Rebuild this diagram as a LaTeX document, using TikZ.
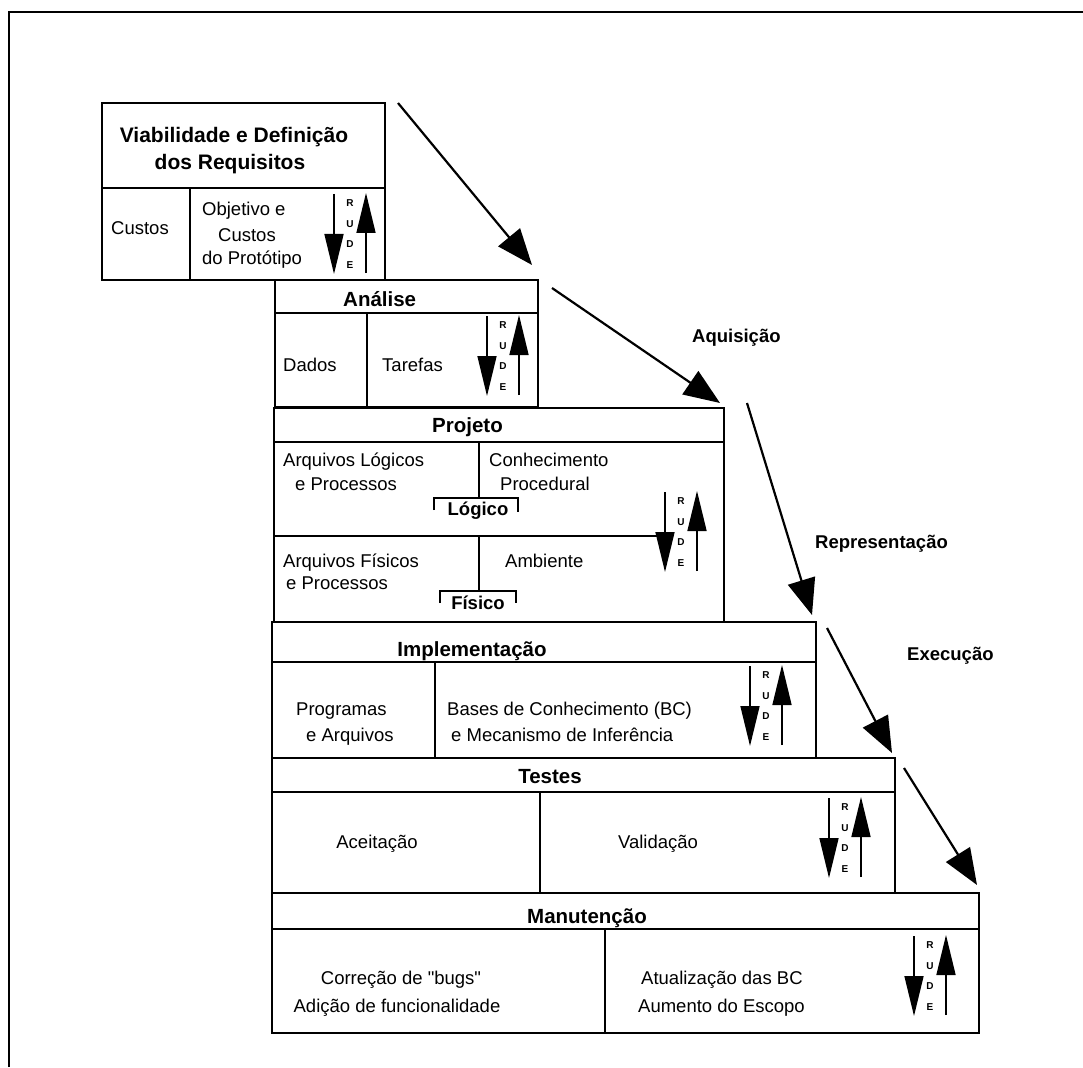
\documentclass[tikz,border=0pt]{standalone}
\usepackage{fontspec}
\setmainfont{Liberation Sans}[Ligatures=TeXOff]
\usetikzlibrary{arrows.meta}

% a cell of the stair diagram: name, top-left corner, width, height
\newcommand\cellbox[5]{\node[cell, minimum width=#4pt, minimum height=#5pt] (#1) at (#2,#3) {};}
% the R-U-D-E marker with its down and up arrows
\newcommand\rude[3]{%
  \node[rl] (#1) at (#2,#3) {R\\U\\D\\E};
  \draw[rudearrow] ([xshift=-16pt,yshift=40pt]#1.center) -- ([xshift=-16pt,yshift=-40pt]#1.center);
  \draw[rudearrow] ([xshift=16pt,yshift=-39pt]#1.center) -- ([xshift=16pt,yshift=41pt]#1.center);
}

\begin{document}
\begin{tikzpicture}[x=1pt,y=-1pt,
  frame/.style={line width=2.4pt},
  cell/.style={draw, line width=2pt, inner sep=0pt, outer sep=0pt, anchor=north west},
  ttl/.style={font=\fontsize{20.5}{24}\bfseries\selectfont, inner sep=0pt},
  txt/.style={font=\fontsize{18.5}{22}\selectfont, inner sep=0pt},
  lbl/.style={font=\fontsize{18.5}{22}\bfseries\selectfont, inner sep=0pt},
  rl/.style={font=\fontsize{10}{20.7}\bfseries\selectfont, inner sep=0pt, align=center},
  flow/.style={line width=2.2pt, -{Triangle[length=36pt,width=28pt]}},
  rudearrow/.style={line width=1.6pt, -{Triangle[length=40pt,width=19pt]}},
  divider/.style={line width=2pt},
  bracket/.style={line width=1.6pt},
]
\useasboundingbox (0,0) rectangle (1083,1067);

% page frame (top and left sides)
\draw[frame] (9,1067) -- (9,12) -- (1083,12);

% --- Viabilidade e Definição dos Requisitos
\cellbox{v1t}{102}{103}{283}{85}
\cellbox{v1l}{102}{188}{88}{92}
\cellbox{v1r}{190}{188}{195}{92}
\node[ttl, font=\fontsize{21}{24}\bfseries\selectfont, anchor=base] (v1ta) at (234,143) {Viabilidade e Definição};
\node[ttl, font=\fontsize{21}{24}\bfseries\selectfont, anchor=base] (v1tb) at (230,170) {dos Requisitos};
\node[txt, anchor=base west] (v1a) at (111,234) {Custos};
\node[txt, anchor=base west] (v1b) at (202,215) {Objetivo e};
\node[txt, anchor=base west] (v1c) at (218,241) {Custos};
\node[txt, anchor=base west] (v1d) at (202,265) {do Protótipo};
\rude{r1}{350}{234}

% --- Análise
\cellbox{v2t}{275}{280}{263}{33}
\cellbox{v2l}{275}{313}{92}{94}
\cellbox{v2r}{367}{313}{171}{94}
\node[ttl, anchor=base west] (v2ta) at (343,306) {Análise};
\node[txt, anchor=base west] (v2a) at (283,371) {Dados};
\node[txt, anchor=base west] (v2b) at (382,371) {Tarefas};
\rude{r2}{503}{356}

% --- Projeto
\cellbox{v3t}{274}{408}{450}{34}
\cellbox{v3b}{274}{442}{450}{180}
\coordinate (p3a) at (274,536);
\coordinate (p3b) at (662,536);
\draw[divider] (p3a) -- (p3b);
\coordinate (p3c) at (479,442);
\coordinate (p3d) at (479,498);
\coordinate (p3e) at (479,536);
\coordinate (p3f) at (479,591);
\draw[divider] (p3c) -- (p3d);
\draw[divider] (p3e) -- (p3f);
\draw[bracket] (434,510) -- (434,498) -- (518,498) -- (518,512);
\draw[bracket] (440,603) -- (440,591) -- (516,591) -- (516,603);
\node[ttl, anchor=base west] (v3ta) at (432,432) {Projeto};
\node[txt, anchor=base west] (v3a) at (283,466) {Arquivos Lógicos};
\node[txt, anchor=base west] (v3b) at (295,490) {e Processos};
\node[txt, anchor=base west] (v3c) at (489,466) {Conhecimento};
\node[txt, anchor=base west] (v3d) at (500,490) {Procedural};
\node[lbl, anchor=base] (v3e) at (478,515) {Lógico};
\node[txt, anchor=base west] (v3f) at (283,567) {Arquivos Físicos};
\node[txt, anchor=base west] (v3g) at (286,589) {e Processos};
\node[txt, anchor=base west] (v3h) at (505,567) {Ambiente};
\node[lbl, anchor=base] (v3i) at (478,609) {Físico};
\rude{r3}{681}{532}

% --- Implementação
\cellbox{v4t}{272}{622}{544}{40}
\cellbox{v4l}{272}{662}{163}{96}
\cellbox{v4r}{435}{662}{381}{96}
\node[ttl, anchor=base] (v4ta) at (472,656) {Implementação};
\node[txt, anchor=base west] (v4a) at (296,715) {Programas};
\node[txt, anchor=base west] (v4b) at (306,741) {e Arquivos};
\node[txt, anchor=base west] (v4c) at (447,715) {Bases de Conhecimento (BC)};
\node[txt, anchor=base west] (v4d) at (451,741) {e Mecanismo de Inferência};
\rude{r4}{766}{706}

% --- Testes
\cellbox{v5t}{272}{758}{623}{34}
\cellbox{v5l}{272}{792}{268}{101}
\cellbox{v5r}{540}{792}{355}{101}
\node[ttl, anchor=base] (v5ta) at (550,783) {Testes};
\node[txt, anchor=base] (v5a) at (377,848) {Aceitação};
\node[txt, anchor=base] (v5b) at (658,848) {Validação};
\rude{r5}{845}{838}

% --- Manutenção
\cellbox{v6t}{272}{893}{707}{36}
\cellbox{v6l}{272}{929}{333}{104}
\cellbox{v6r}{605}{929}{374}{104}
\node[ttl, anchor=base] (v6ta) at (587,923) {Manutenção};
\node[txt, anchor=base] (v6a) at (401,984) {Correção de "bugs"};
\node[txt, anchor=base] (v6b) at (397,1012) {Adição de funcionalidade};
\node[txt, anchor=base west] (v6c) at (641,984) {Atualização das BC};
\node[txt, anchor=base west] (v6d) at (638,1012) {Aumento do Escopo};
\rude{r6}{930}{976}

% --- flow arrows between the stages
\coordinate (f1s) at (398,103);  \coordinate (f1e) at (532,265);
\coordinate (f2s) at (552,288);  \coordinate (f2e) at (720,403);
\coordinate (f3s) at (747,403);  \coordinate (f3e) at (812,615);
\coordinate (f4s) at (827,628);  \coordinate (f4e) at (892,753);
\coordinate (f5s) at (904,768);  \coordinate (f5e) at (977,885);
\draw[flow] (f1s) -- (f1e);
\draw[flow] (f2s) -- (f2e);
\draw[flow] (f3s) -- (f3e);
\draw[flow] (f4s) -- (f4e);
\draw[flow] (f5s) -- (f5e);

\node[lbl, anchor=base west] (la) at (692,342) {Aquisição};
\node[lbl, anchor=base west] (lb) at (815,548) {Representação};
\node[lbl, anchor=base west] (lc) at (907,660) {Execução};
\end{tikzpicture}
\end{document}
